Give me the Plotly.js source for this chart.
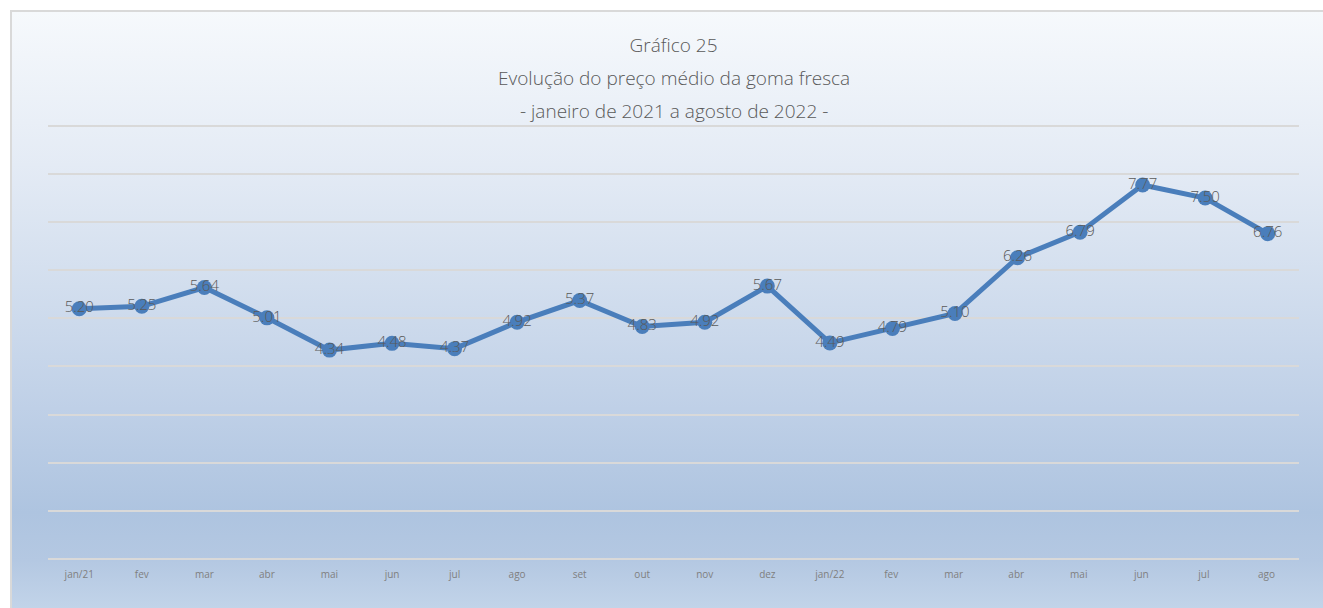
<!DOCTYPE html>
<html>
<head>
<meta charset="utf-8">
<script src="https://cdn.plot.ly/plotly-3.0.1.min.js"></script>
<style>
  html, body { margin: 0; padding: 0; background: #ffffff; width: 1323px; height: 608px; overflow: hidden; }
  #bg { position: absolute; left: 10px; top: 10px; width: 1320px; height: 610px;
        border-left: 2px solid #d9d9d9; border-top: 2px solid #d9d9d9;
        background: linear-gradient(to bottom, #f6f9fc 0%, #e4ebf5 25%, #d2deee 45%, #bfd0e7 65%, #aec4e0 82%, #b4c8e2 90%, #c6d7eb 100%); }
  #chart { position: absolute; left: 0; top: 0; width: 1323px; height: 608px; }
</style>
</head>
<body>
<div id="bg"></div>
<div id="chart"></div>
<script>
const categories = ["jan/21","fev","mar","abr","mai","jun","jul","ago","set","out","nov","dez",
                    "jan/22","fev ","mar ","abr ","mai ","jun ","jul ","ago "];
const prices = [5.20,5.25,5.64,5.01,4.34,4.48,4.37,4.92,5.37,4.83,4.92,5.67,
                4.49,4.79,5.10,6.26,6.79,7.77,7.50,6.76];
const titleLines = ["Gráfico 25", "Evolução do preço médio da goma fresca", "- janeiro de 2021 a agosto de 2022 -"];

const fontFam = "'Segoe UI Light', 'Open Sans', 'Noto Sans', sans-serif";
const textColor = "#595959";

const trace = {
  x: categories,
  y: prices,
  type: "scatter",
  mode: "lines+markers+text",
  line: { color: "#4a7ebb", width: 5 },
  marker: { color: "#4a7ebb", size: 15 },
  text: prices.map(v => v.toFixed(2)),
  textposition: "middle center",
  textfont: { family: fontFam, size: 15, color: textColor, weight: 300 },
  cliponaxis: false,
  hoverinfo: "x+y"
};

const yMax = 9.1;
const plotBottom = 559, unitPx = 48.1;
const plotTop = Math.round(plotBottom - yMax * unitPx);
const plotH = plotBottom - plotTop;
function yPaper(py) { return 1 + (plotTop - py) / plotH; }
const H = 608;
const titleFont = { family: fontFam, size: 19, color: textColor, weight: 300 };

const layout = {
  width: 1323, height: H,
  margin: { l: 48, r: 24, t: plotTop, b: H - plotBottom, pad: 0 },
  paper_bgcolor: "rgba(0,0,0,0)",
  plot_bgcolor: "rgba(0,0,0,0)",
  showlegend: false,
  title: {
    text: titleLines[0],
    font: titleFont,
    x: 0.5, xref: "paper", xanchor: "center",
    y: 1 - 45 / H, yref: "container", yanchor: "middle"
  },
  annotations: [
    { text: titleLines[1], xref: "paper", yref: "paper", x: 0.5, y: yPaper(78), xanchor: "center", yanchor: "middle",
      showarrow: false, font: titleFont },
    { text: titleLines[2], xref: "paper", yref: "paper", x: 0.5, y: yPaper(111), xanchor: "center", yanchor: "middle",
      showarrow: false, font: titleFont }
  ],
  xaxis: {
    type: "category",
    range: [-0.5, categories.length - 0.5],
    showgrid: false, zeroline: false, showline: false,
    ticks: "", ticklen: 0, ticklabelstandoff: 8,
    tickfont: { family: fontFam, size: 10, color: "#7f7f7f" },
    fixedrange: true
  },
  yaxis: {
    range: [0, yMax],
    dtick: 1, tick0: 0,
    showgrid: true, gridcolor: "#d9d9d9", gridwidth: 1.5,
    zeroline: true, zerolinecolor: "#d9d9d9", zerolinewidth: 1.5,
    showticklabels: false, ticks: "", showline: false,
    fixedrange: true
  }
};

Plotly.newPlot("chart", [trace], layout, { displayModeBar: false });
</script>
</body>
</html>
